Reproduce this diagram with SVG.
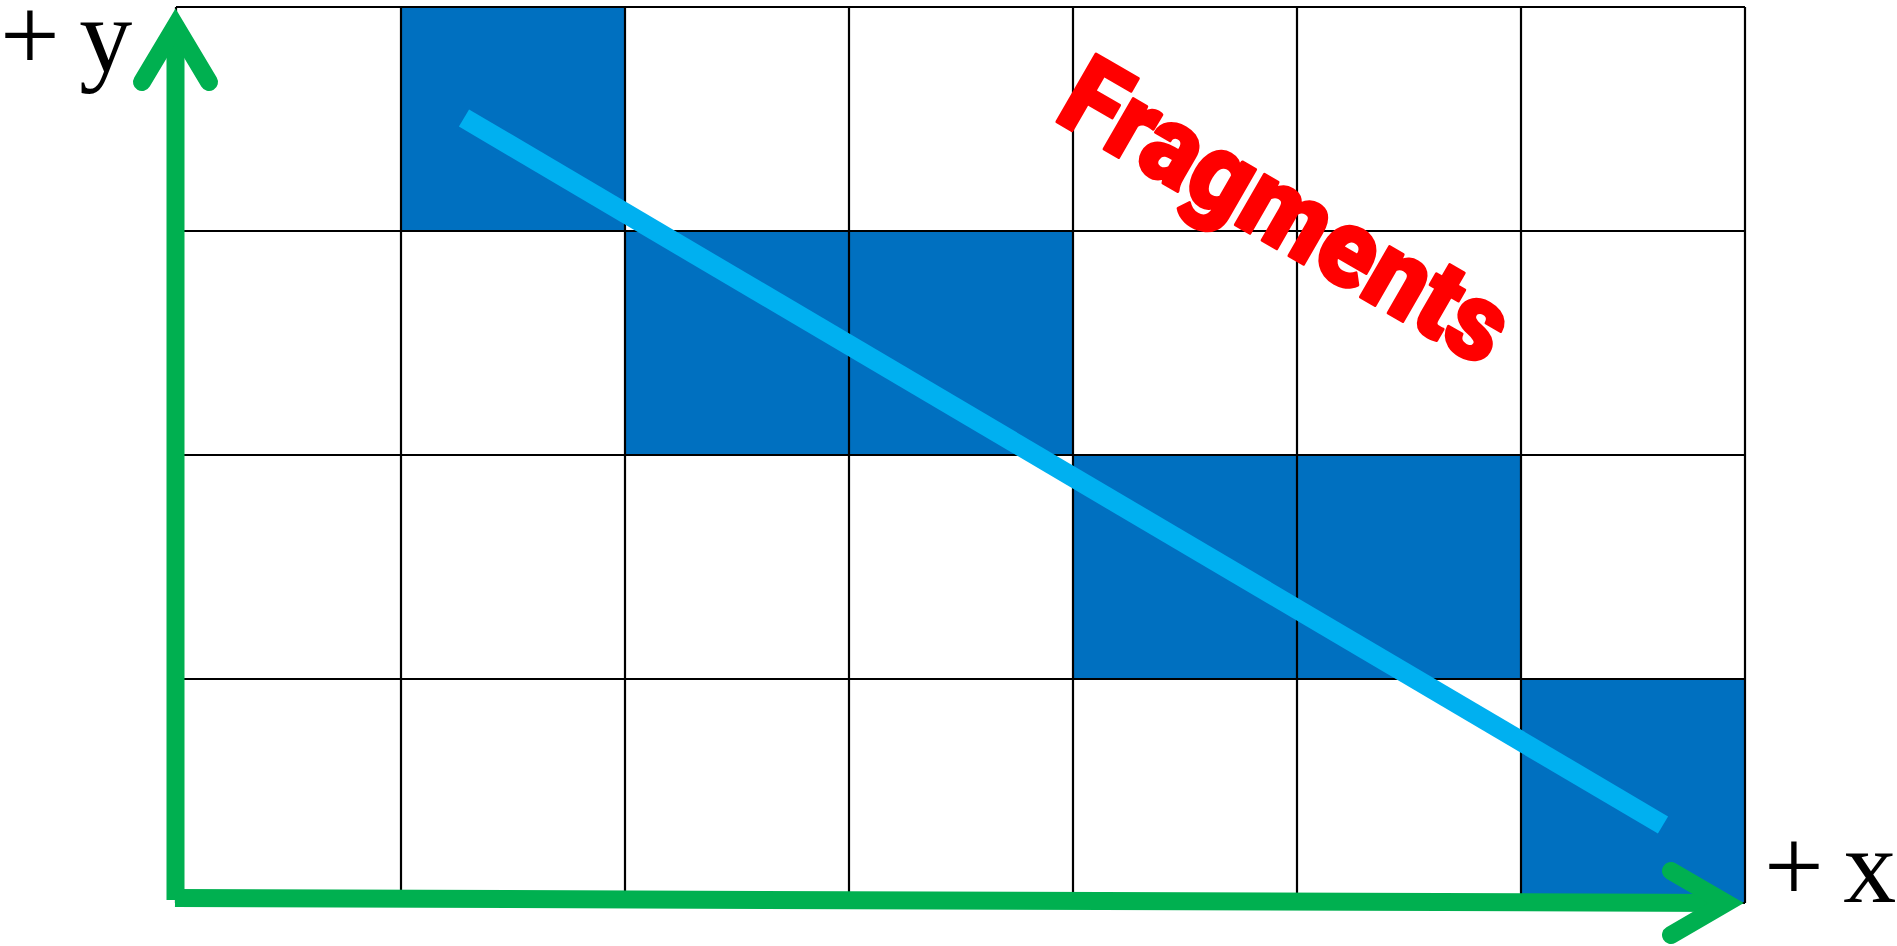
<svg xmlns="http://www.w3.org/2000/svg" width="1897" height="946" viewBox="0 0 1897 946">
  <style>
    .cell { fill: #0070C0; }
    .grid line { stroke: #000; stroke-width: 2.2; }
    .axis { stroke: #00B050; stroke-width: 18; fill: none; }
    .head { stroke-linecap: round; stroke-linejoin: miter; }
    .lbl { font-family: "Liberation Serif", "Times New Roman", serif; font-size: 106px; fill: #000; word-spacing: -7px; }
    .frag { font-family: Roboto, Inter, "Liberation Sans", sans-serif; font-weight: 900; font-size: 110px; fill: #FF0000; stroke: #FF0000; stroke-width: 3; stroke-linejoin: round; }
  </style>
  <rect x="0" y="0" width="1897" height="946" fill="#fff"/>
  <g id="cells">
    <rect class="cell" x="401" y="7" width="224" height="224"/>
    <rect class="cell" x="625" y="231" width="448" height="224"/>
    <rect class="cell" x="1073" y="455" width="448" height="224"/>
    <rect class="cell" x="1521" y="679" width="224" height="224"/>
  </g>
  <g id="grid" class="grid">
    <line x1="176" y1="7" x2="1745" y2="7"/>
    <line x1="176" y1="231" x2="1745" y2="231"/>
    <line x1="176" y1="455" x2="1745" y2="455"/>
    <line x1="176" y1="679" x2="1745" y2="679"/>
    <line x1="176" y1="903" x2="1745" y2="903"/>
    <line x1="176" y1="7" x2="176" y2="903"/>
    <line x1="401" y1="7" x2="401" y2="903"/>
    <line x1="625" y1="7" x2="625" y2="903"/>
    <line x1="849" y1="7" x2="849" y2="903"/>
    <line x1="1073" y1="7" x2="1073" y2="903"/>
    <line x1="1297" y1="7" x2="1297" y2="903"/>
    <line x1="1521" y1="7" x2="1521" y2="903"/>
    <line x1="1745" y1="7" x2="1745" y2="903"/>
  </g>
  <g id="fragment-line">
    <line x1="464" y1="118" x2="1663" y2="825" stroke="#00B0F0" stroke-width="20"/>
  </g>
  <g id="fragments-label">
    <text class="frag" transform="translate(1052,119) rotate(30)" x="0" y="0" textLength="498" lengthAdjust="spacingAndGlyphs">Fragments</text>
  </g>
  <g id="connectors">
    <line class="axis" x1="175.5" y1="900" x2="175.5" y2="26"/>
    <polyline class="axis head" points="142,82 175.5,26 209,82"/>
    <line class="axis" x1="175" y1="898" x2="1726" y2="903"/>
    <polyline class="axis head" points="1671,871 1726,903 1671,935"/>
  </g>
  <g id="y-label">
    <text class="lbl" x="0" y="71">+ y</text>
  </g>
  <g id="x-label">
    <text class="lbl" x="1764" y="902">+ x</text>
  </g>
</svg>
